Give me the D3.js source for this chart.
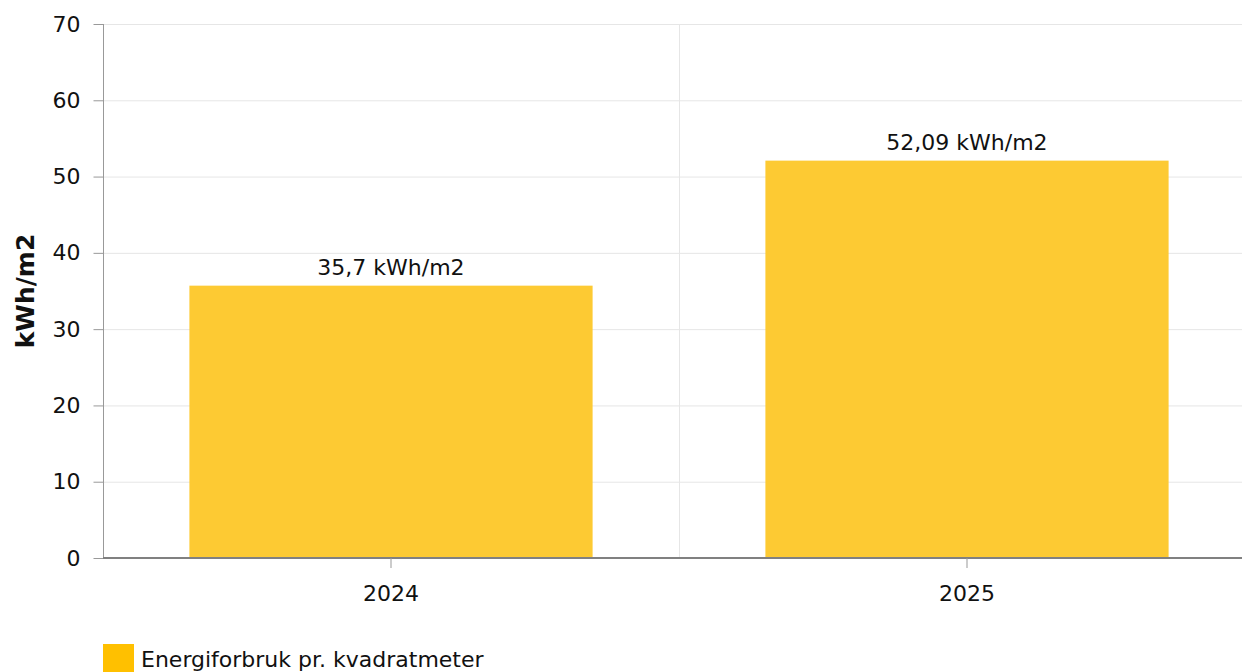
<!DOCTYPE html>
<html>
    <head>
        <style>
            body{
                margin: 0;
                background-color: white;
                font-family: "DejaVu Sans", Verdana, sans-serif;
            }
        </style>
        <script src="https://d3js.org/d3.v7.min.js"></script>
    </head>
    <body>
        <script>
            const years = ["2024", "2025"];
            const values = [35.7, 52.09];
            const labels = ["35,7 kWh/m2", "52,09 kWh/m2"];
            const yTicks = [0, 10, 20, 30, 40, 50, 60, 70];
            const seriesName = "Energiforbruk pr. kvadratmeter";
            const yTitle = "kWh/m2";

            const w = 1242;
            const h = 672;
            const plotLeft = 103, plotTop = 24, plotBottom = 558, plotRight = 1255;

            const svg = d3.select("body")
                        .append("svg")
                        .attr("width", w)
                        .attr("height", h)
                        .style("display", "block");

            const xScale = d3.scaleBand().domain(years).range([plotLeft, plotRight]);
            const xBars = d3.scaleBand().domain(years).range([plotLeft, plotRight])
                        .paddingInner(0.3).paddingOuter(0.15);
            const yScale = d3.scaleLinear().domain([0, 70]).range([plotBottom, plotTop]);

            // horizontal grid
            svg.append("g")
                .selectAll("line")
                .data(yTicks)
                .enter()
                .append("line")
                .attr("x1", plotLeft)
                .attr("x2", w)
                .attr("y1", d => yScale(d) + 0.5)
                .attr("y2", d => yScale(d) + 0.5)
                .attr("stroke", "#e6e6e6")
                .attr("stroke-width", 1);

            // vertical grid between categories
            svg.append("g")
                .selectAll("line")
                .data(years.slice(1))
                .enter()
                .append("line")
                .attr("x1", d => Math.round(xScale(d)) + 0.5)
                .attr("x2", d => Math.round(xScale(d)) + 0.5)
                .attr("y1", plotTop)
                .attr("y2", plotBottom)
                .attr("stroke", "#e6e6e6")
                .attr("stroke-width", 1);

            // bars
            svg.append("g")
                .selectAll("rect")
                .data(values)
                .enter()
                .append("rect")
                .attr("x", (d, i) => xBars(years[i]))
                .attr("y", d => yScale(d))
                .attr("width", xBars.bandwidth())
                .attr("height", d => plotBottom - yScale(d))
                .attr("fill", "#fdca33");

            // value labels
            svg.append("g")
                .selectAll("text")
                .data(values)
                .enter()
                .append("text")
                .attr("x", (d, i) => xBars(years[i]) + xBars.bandwidth() / 2)
                .attr("y", d => yScale(d) - 11)
                .attr("text-anchor", "middle")
                .attr("font-size", 22)
                .attr("fill", "#111")
                .text((d, i) => labels[i]);

            // y axis
            const yAxis = d3.axisLeft(yScale)
                .tickValues(yTicks)
                .tickSize(10)
                .tickPadding(13);
            const gy = svg.append("g")
                .attr("transform", "translate(" + (plotLeft + 0.5) + ",0)")
                .call(yAxis);
            gy.select(".domain").attr("stroke", "#999").attr("d", "M0," + plotTop + "V" + plotBottom);
            gy.selectAll(".tick line").attr("stroke", "#999");
            gy.selectAll(".tick text")
                .attr("font-family", "DejaVu Sans")
                .attr("font-size", 22)
                .attr("fill", "#111");

            // x axis
            const xAxis = d3.axisBottom(xScale)
                .tickSize(10)
                .tickPadding(17)
                .tickSizeOuter(0);
            const gx = svg.append("g")
                .attr("transform", "translate(0," + plotBottom + ")")
                .call(xAxis);
            gx.select(".domain").attr("stroke", "#808080").attr("stroke-width", 2)
                .attr("d", "M" + plotLeft + ",0H" + w);
            gx.selectAll(".tick line").attr("stroke", "#999");
            gx.selectAll(".tick text")
                .attr("font-family", "DejaVu Sans")
                .attr("font-size", 22)
                .attr("fill", "#111");

            // y title
            svg.append("text")
                .attr("transform", "translate(34," + ((plotTop + plotBottom) / 2) + ") rotate(-90)")
                .attr("text-anchor", "middle")
                .attr("font-size", 25)
                .attr("font-weight", "bold")
                .attr("fill", "#111")
                .text(yTitle);

            // legend
            const legend = svg.append("g").attr("transform", "translate(103,644)");
            legend.append("rect")
                .attr("width", 31)
                .attr("height", 30)
                .attr("fill", "#ffc000");
            legend.append("text")
                .attr("x", 38)
                .attr("y", 23)
                .attr("font-size", 22)
                .attr("fill", "#111")
                .text(seriesName);
        </script>
    </body>
</html>
